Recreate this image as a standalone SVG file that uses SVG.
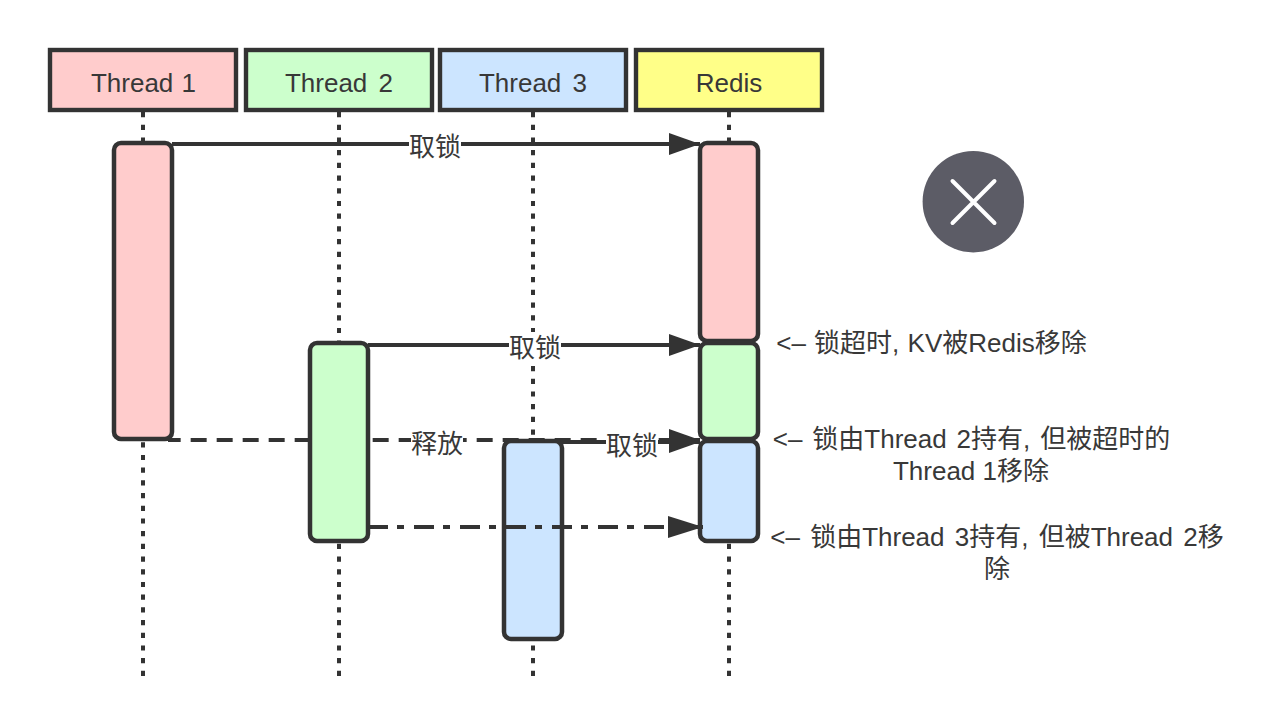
<svg xmlns="http://www.w3.org/2000/svg" width="1279" height="728" viewBox="0 0 1279 728">
<style>
text{font-family:"Liberation Sans","Noto Sans CJK SC",sans-serif;font-size:26px;fill:#383838;text-anchor:middle}
.h{word-spacing:4px}
.b{stroke:#333;stroke-width:4.4}
.a{stroke:#333;stroke-width:4.5;rx:7px;ry:7px}
.life{stroke:#333;stroke-width:4;stroke-dasharray:5.2 7.5;fill:none}
.c{stroke:#333;stroke-width:4;fill:none}
.p{fill:#ffcccc}.g{fill:#ccffcc}.u{fill:#cce5ff}.y{fill:#ffff88}
.l{fill:#fff}
</style>
<defs>
<marker id="ah" markerUnits="userSpaceOnUse" markerWidth="33" markerHeight="24" refX="31" refY="11" orient="auto"><path d="M0 0L31 11L0 22Z" fill="#333"/></marker>
<marker id="ah2" markerUnits="userSpaceOnUse" markerWidth="36" markerHeight="24" refX="35" refY="11" orient="auto"><path d="M0 0L35 11L0 22Z" fill="#333"/></marker>
</defs>
<rect width="1279" height="728" fill="#fff"/>
<g id="lifelines">
<path class="life" d="M143 112V676"/><path class="life" d="M339 112V676"/><path class="life" d="M533 112V676"/><path class="life" d="M729 112V676"/>
</g>
<g id="thread1"><rect class="b p" x="50" y="50" width="186" height="60"/><text x="143.500" y="92" style="word-spacing:1px">Thread 1</text></g>
<g id="thread2"><rect class="b g" x="246" y="50" width="186" height="60"/><text class="h" x="339" y="92">Thread 2</text></g>
<g id="thread3"><rect class="b u" x="440" y="50" width="186" height="60"/><text class="h" x="533" y="92">Thread 3</text></g>
<g id="redis"><rect class="b y" x="636" y="50" width="186" height="60"/><text x="729" y="92">Redis</text></g>
<g id="act-t1"><rect class="a p" x="114" y="143" width="58" height="296"/></g>
<g id="act-t3"><rect class="a u" x="504" y="441" width="58" height="198"/></g>
<g id="act-t2"><rect class="a g" x="310" y="343" width="58" height="198"/></g>
<g id="act-r1"><rect class="a p" x="700" y="143" width="58" height="198"/></g>
<g id="act-r2"><rect class="a g" x="700" y="343" width="58" height="96"/></g>
<g id="act-r3"><rect class="a u" x="700" y="441" width="58" height="100"/></g>
<g id="connectors">
<path class="c" d="M172 144H700" marker-end="url(#ah)"/>
<path class="c" d="M368 345H700" marker-end="url(#ah)"/>
<path class="c" d="M168 440H308" stroke-dasharray="16 10" stroke-dashoffset="3.33"/>
<path class="c" d="M372.670 440H700" stroke-dasharray="16 10" marker-end="url(#ah)"/>
<path class="c" d="M562 442H700" marker-end="url(#ah)"/>
<path class="c" d="M368 527H703" stroke-dasharray="20 9 7 10" marker-end="url(#ah2)"/>
<rect x="409" y="130" width="52" height="28" class="l"/><text x="435" y="156">取锁</text>
<rect x="509" y="332" width="52" height="28" class="l"/><text x="535" y="357">取锁</text>
<rect x="411" y="428" width="52" height="26" class="l"/><text x="437" y="453">释放</text>
<rect x="606" y="430" width="52" height="28" class="l"/><text x="632" y="455">取锁</text>
</g>
<g id="close-icon"><circle cx="973.300" cy="201.700" r="50.700" fill="#5c5c66"/><path d="M952.500 181L994.500 223M994.500 181L952.500 223" stroke="#fff" stroke-width="4" stroke-linecap="round"/></g>
<g id="notes">
<text x="931.500" y="352" style="word-spacing:1px">&lt;– 锁超时, KV被Redis移除</text>
<text x="971.500" y="448" style="word-spacing:2.700px">&lt;– 锁由Thread 2持有, 但被超时的</text>
<text x="971" y="480">Thread 1移除</text>
<text x="997" y="546" style="word-spacing:3px">&lt;– 锁由Thread 3持有, 但被Thread 2移</text>
<text x="997" y="578">除</text>
</g>
</svg>
